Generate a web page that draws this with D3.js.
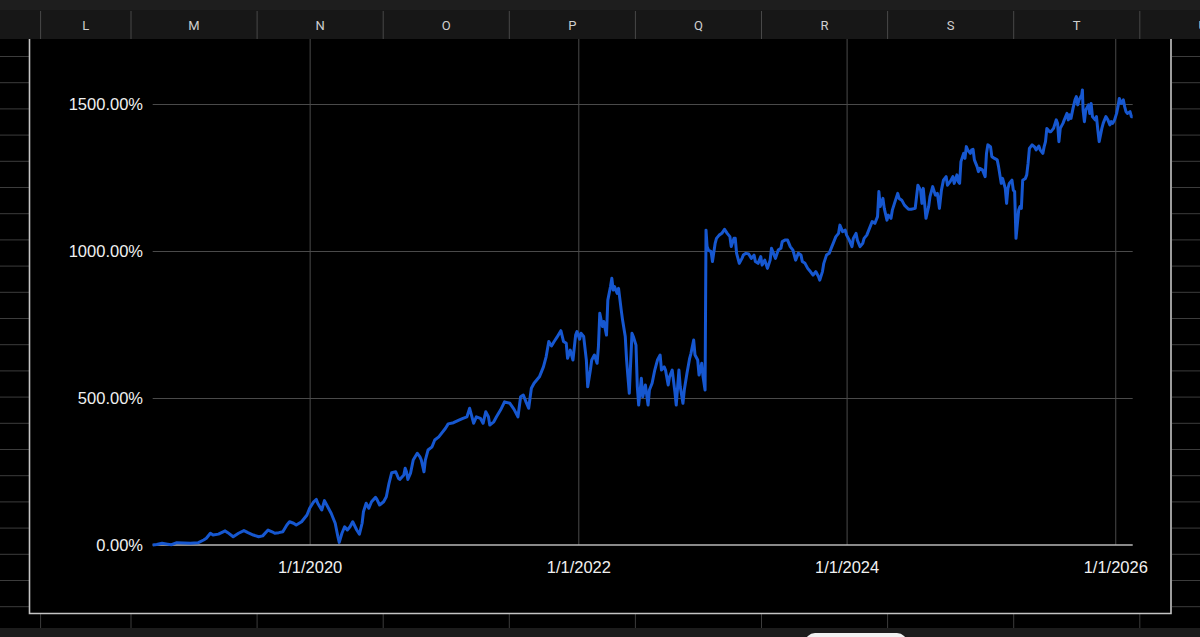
<!DOCTYPE html>
<html>
<head>
<meta charset="utf-8">
<script src="https://cdn.jsdelivr.net/npm/d3@7"></script>
<style>
	html, body { margin: 0; padding: 0; background: #000; overflow: hidden; }
	svg { display: block; }
</style>
</head>
<body>
<script>
'use strict';

// column letters of the sheet header
var columns = ['L', 'M', 'N', 'O', 'P', 'Q', 'R', 'S', 'T', 'U'];

// x tick dates and y tick values
var xTicks = ['2020-01-01', '2022-01-01', '2024-01-01', '2026-01-01'];
var yTicks = [0, 500, 1000, 1500];

// series: time in decimal years, cumulative return in %
var years = [
	2018.83, 2018.86, 2018.90, 2018.94, 2018.97, 2019.01, 2019.06, 2019.11, 2019.17, 2019.21,
	2019.23, 2019.26, 2019.28, 2019.32, 2019.37, 2019.39, 2019.43, 2019.47, 2019.51, 2019.54,
	2019.58, 2019.62, 2019.65, 2019.69, 2019.72, 2019.74, 2019.77, 2019.80, 2019.83, 2019.85,
	2019.88, 2019.90, 2019.94, 2019.98, 2020.00, 2020.03, 2020.05, 2020.06, 2020.09, 2020.11,
	2020.14, 2020.16, 2020.19, 2020.21, 2020.22, 2020.24, 2020.26, 2020.28, 2020.30, 2020.32,
	2020.35, 2020.37, 2020.39, 2020.40, 2020.42, 2020.44, 2020.46, 2020.49, 2020.50, 2020.52,
	2020.55, 2020.57, 2020.59, 2020.61, 2020.64, 2020.66, 2020.67, 2020.70, 2020.71, 2020.72,
	2020.73, 2020.75, 2020.77, 2020.80, 2020.82, 2020.83, 2020.85, 2020.86, 2020.88, 2020.91,
	2020.93, 2020.96, 2021.01, 2021.03, 2021.07, 2021.11, 2021.14, 2021.17, 2021.19, 2021.20,
	2021.22, 2021.24, 2021.27, 2021.29, 2021.31, 2021.33, 2021.34, 2021.37, 2021.39, 2021.42,
	2021.45, 2021.49, 2021.52, 2021.55, 2021.57, 2021.59, 2021.61, 2021.63, 2021.65, 2021.67,
	2021.69, 2021.71, 2021.74, 2021.76, 2021.78, 2021.80, 2021.82, 2021.84, 2021.87, 2021.89,
	2021.91, 2021.92, 2021.94, 2021.96, 2021.98, 2021.99, 2022.01, 2022.02, 2022.04, 2022.06,
	2022.07, 2022.09, 2022.10, 2022.12, 2022.14, 2022.15, 2022.16, 2022.18, 2022.19, 2022.21,
	2022.22, 2022.24, 2022.25, 2022.26, 2022.27, 2022.29, 2022.30, 2022.32, 2022.33, 2022.35,
	2022.36, 2022.37, 2022.38, 2022.40, 2022.41, 2022.43, 2022.44, 2022.45, 2022.47, 2022.48,
	2022.50, 2022.52, 2022.53, 2022.55, 2022.57, 2022.59, 2022.61, 2022.62, 2022.64, 2022.65,
	2022.67, 2022.68, 2022.70, 2022.72, 2022.73, 2022.75, 2022.76, 2022.78, 2022.79, 2022.81,
	2022.83, 2022.84, 2022.86, 2022.87, 2022.89, 2022.90, 2022.92, 2022.93, 2022.945, 2022.952,
	2022.96, 2022.97, 2022.99, 2023.00, 2023.02, 2023.03, 2023.05, 2023.07, 2023.09, 2023.11,
	2023.13, 2023.14, 2023.16, 2023.17, 2023.18, 2023.20, 2023.22, 2023.23, 2023.25, 2023.27,
	2023.29, 2023.31, 2023.32, 2023.34, 2023.36, 2023.37, 2023.39, 2023.41, 2023.43, 2023.44,
	2023.46, 2023.47, 2023.49, 2023.51, 2023.52, 2023.54, 2023.56, 2023.58, 2023.60, 2023.62,
	2023.64, 2023.66, 2023.67, 2023.69, 2023.71, 2023.73, 2023.75, 2023.77, 2023.79, 2023.80,
	2023.82, 2023.83, 2023.85, 2023.87, 2023.89, 2023.90, 2023.92, 2023.94, 2023.95, 2023.96,
	2023.97, 2023.99, 2024.00, 2024.02, 2024.04, 2024.05, 2024.07, 2024.08, 2024.10, 2024.12,
	2024.13, 2024.15, 2024.17, 2024.19, 2024.21, 2024.23, 2024.24, 2024.25, 2024.27, 2024.28,
	2024.30, 2024.31, 2024.33, 2024.34, 2024.36, 2024.38, 2024.39, 2024.41, 2024.43, 2024.46,
	2024.48, 2024.51, 2024.53, 2024.55, 2024.56, 2024.57, 2024.59, 2024.61, 2024.62, 2024.64,
	2024.66, 2024.675, 2024.69, 2024.705, 2024.72, 2024.74, 2024.75, 2024.77, 2024.79, 2024.80,
	2024.82, 2024.83, 2024.84, 2024.85, 2024.87, 2024.88, 2024.89, 2024.90, 2024.92, 2024.93,
	2024.94, 2024.95, 2024.97, 2024.98, 2024.99, 2025.01, 2025.03, 2025.04, 2025.05, 2025.07,
	2025.08, 2025.10, 2025.12, 2025.13, 2025.15, 2025.16, 2025.18, 2025.19, 2025.20, 2025.21,
	2025.23, 2025.24, 2025.25, 2025.26, 2025.28, 2025.29, 2025.30, 2025.31, 2025.33, 2025.34,
	2025.35, 2025.36, 2025.38, 2025.40, 2025.41, 2025.43, 2025.44, 2025.46, 2025.47, 2025.48,
	2025.49, 2025.51, 2025.52, 2025.54, 2025.56, 2025.57, 2025.58, 2025.59, 2025.61, 2025.62,
	2025.64, 2025.65, 2025.66, 2025.67, 2025.685, 2025.70, 2025.71, 2025.72, 2025.73, 2025.75,
	2025.755, 2025.76, 2025.77, 2025.78, 2025.80, 2025.81, 2025.82, 2025.83, 2025.85, 2025.86,
	2025.87, 2025.88, 2025.90, 2025.91, 2025.92, 2025.93, 2025.945, 2025.96, 2025.97, 2025.98,
	2025.995, 2026.01, 2026.02, 2026.03, 2026.045, 2026.06, 2026.07, 2026.08, 2026.09, 2026.11,
	2026.12, 2026.13
];
var returns = [
	0, 2, 6, 3, 1, 8, 7, 6, 8, 17,
	23, 40, 34, 37, 48, 42, 28, 40, 49, 42,
	34, 28, 31, 51, 45, 40, 42, 45, 68, 79,
	74, 68, 79, 102, 125, 147, 155, 142, 119, 151,
	125, 108, 74, 28, 9, 40, 62, 51, 62, 79,
	51, 37, 74, 113, 142, 125, 147, 162, 155, 136,
	147, 164, 210, 246, 249, 227, 223, 238, 261, 249,
	223, 244, 289, 312, 300, 289, 249, 289, 323, 334,
	357, 368, 397, 412, 416, 425, 431, 436, 465, 448,
	414, 436, 431, 414, 453, 436, 408, 419, 436, 459,
	487, 482, 462, 436, 504, 510, 487, 465, 533, 550,
	561, 572, 606, 640, 692, 677, 692, 706, 729, 692,
	686, 635, 663, 629, 714, 726, 700, 720, 709, 629,
	538, 595, 629, 646, 618, 675, 788, 743, 760, 714,
	833, 879, 907, 867, 879, 856, 873, 799, 765, 709,
	629, 572, 516, 720, 709, 680, 538, 476, 567, 504,
	544, 476, 527, 550, 595, 629, 646, 595, 606, 595,
	544, 572, 595, 521, 476, 595, 538, 482, 527, 584,
	635, 652, 697, 646, 629, 578, 618, 572, 527, 1071,
	1015, 1003, 998, 964, 1026, 1043, 1054, 1060, 1074, 1060,
	1049, 1015, 1043, 1043, 992, 958, 975, 986, 992, 990,
	975, 986, 964, 958, 981, 952, 969, 941, 969, 1009,
	986, 975, 1003, 1009, 1032, 1037, 1037, 1015, 1003, 969,
	992, 986, 964, 958, 941, 930, 918, 930, 913, 901,
	930, 958, 986, 992, 1015, 1026, 1049, 1060, 1088, 1077,
	1066, 1071, 1054, 1037, 1015, 1043, 1060, 1037, 1015, 1026,
	1043, 1054, 1077, 1100, 1094, 1117, 1202, 1151, 1179, 1145,
	1105, 1122, 1111, 1139, 1168, 1196, 1179, 1173, 1156, 1142,
	1142, 1145, 1224, 1207, 1162, 1213, 1111, 1151, 1185, 1219,
	1190, 1196, 1145, 1207, 1241, 1253, 1224, 1236, 1253, 1230,
	1259, 1236, 1230, 1304, 1332, 1315, 1355, 1344, 1332, 1344,
	1346, 1310, 1287, 1270, 1281, 1276, 1253, 1332, 1361, 1355,
	1321, 1315, 1310, 1287, 1230, 1247, 1213, 1162, 1213, 1230,
	1241, 1207, 1202, 1043, 1139, 1151, 1145, 1241, 1247, 1259,
	1298, 1349, 1361, 1353, 1344, 1357, 1344, 1332, 1355, 1372,
	1417, 1406, 1406, 1417, 1446, 1434, 1372, 1417, 1434, 1446,
	1468, 1446, 1463, 1451, 1485, 1514, 1525, 1497, 1514, 1531,
	1548, 1480, 1440, 1480, 1497, 1468, 1502, 1457, 1446, 1457,
	1412, 1372, 1417, 1434, 1446, 1457, 1446, 1429, 1440, 1434,
	1446, 1468, 1491, 1519, 1502, 1514, 1491, 1474, 1468, 1474,
	1457, 1457
];

var width = 1200, height = 637;

// decimal year -> Date
var toDate = function(y) {
	var yr = Math.floor(y);
	var start = new Date(yr, 0, 1), end = new Date(yr + 1, 0, 1);
	return new Date(+start + (y - yr) * (end - start));
};

var data = years.map(function(y, i) { return { x: toDate(y), y: returns[i] }; });

var svg = d3.select('body').append('svg')
	.attr('width', width)
	.attr('height', height);

svg.append('rect').attr('width', width).attr('height', height).attr('fill', '#000');

// --------------spreadsheet grid around the chart----------------
var rowLines = d3.range(56.5, 612, 26.2);
var colEdges = [40.6].concat(d3.range(columns.length - 1).map(function(i) { return 131 + i * 126.1; }));

var sheet = svg.append('g').attr('class', 'sheet');
sheet.selectAll('.row-l').data(rowLines).enter().append('line')
	.attr('x1', 0).attr('x2', 29).attr('y1', function(d) { return d; }).attr('y2', function(d) { return d; })
	.attr('stroke', '#3c3c3c').attr('stroke-width', 1);
sheet.selectAll('.row-r').data(rowLines).enter().append('line')
	.attr('x1', 1172).attr('x2', width).attr('y1', function(d) { return d; }).attr('y2', function(d) { return d; })
	.attr('stroke', '#3c3c3c').attr('stroke-width', 1);
sheet.selectAll('.col-b').data(colEdges).enter().append('line')
	.attr('x1', function(d) { return d; }).attr('x2', function(d) { return d; })
	.attr('y1', 614).attr('y2', 628)
	.attr('stroke', '#3c3c3c').attr('stroke-width', 1);

// chart frame
svg.append('path')
	.attr('d', 'M29.5,30 V613.5 H1171 V30')
	.attr('fill', 'none')
	.attr('stroke', '#c4c4c4')
	.attr('stroke-width', 1.6);

// --------------scales and axes----------------
var xScale = d3.scaleTime()
	.domain(d3.extent(data, function(d) { return d.x; }))
	.range([152.7, 1132.7]);
var yScale = d3.scaleLinear()
	.domain([0, 2000])
	.range([545, -43]);

var xTickDates = xTicks.map(function(s) { var p = s.split('-'); return new Date(+p[0], +p[1] - 1, +p[2]); });

// x-grid
svg.append('g')
	.attr('class', 'x-grid')
	.attr('transform', 'translate(0,' + yScale(0) + ')')
	.call(d3.axisBottom(xScale).tickValues(xTickDates).tickSize(yScale(2000) - yScale(0)).tickFormat(''))
	.call(function(g) {
		g.select('.domain').remove();
		g.selectAll('line').attr('stroke', '#4a4a4a').attr('stroke-width', 1);
	});

// y-grid
svg.append('g')
	.attr('class', 'y-grid')
	.attr('transform', 'translate(' + xScale.range()[0] + ',0)')
	.call(d3.axisLeft(yScale).tickValues(yTicks.slice(1)).tickSize(-(xScale.range()[1] - xScale.range()[0])).tickFormat(''))
	.call(function(g) {
		g.select('.domain').remove();
		g.selectAll('line').attr('stroke', '#4a4a4a').attr('stroke-width', 1);
	});

// baseline
svg.append('line')
	.attr('x1', xScale.range()[0]).attr('x2', xScale.range()[1])
	.attr('y1', yScale(0)).attr('y2', yScale(0))
	.attr('stroke', '#b8b8b8').attr('stroke-width', 1.5);

// x labels
svg.append('g')
	.attr('class', 'x-axis')
	.attr('transform', 'translate(0,' + yScale(0) + ')')
	.call(d3.axisBottom(xScale).tickValues(xTickDates).tickSize(0).tickPadding(16).tickFormat(d3.timeFormat('%-m/%-d/%Y')))
	.call(function(g) {
		g.select('.domain').remove();
		g.selectAll('text')
			.attr('fill', '#f0f0f0')
			.style('font-family', '"Liberation Sans", Arial, sans-serif')
			.style('font-size', '16.5px');
	});

// y labels
svg.append('g')
	.attr('class', 'y-axis')
	.attr('transform', 'translate(143,0)')
	.call(d3.axisLeft(yScale).tickValues(yTicks).tickSize(0).tickPadding(0).tickFormat(function(d) { return d.toFixed(2) + '%'; }))
	.call(function(g) {
		g.select('.domain').remove();
		g.selectAll('text')
			.attr('fill', '#f0f0f0')
			.style('font-family', '"Liberation Sans", Arial, sans-serif')
			.style('font-size', '16.5px');
	});

// --------------series line----------------
var line = d3.line()
	.x(function(d) { return xScale(d.x); })
	.y(function(d) { return yScale(d.y); });

svg.append('path')
	.datum(data)
	.attr('d', line)
	.attr('fill', 'none')
	.attr('stroke', '#1657d0')
	.attr('stroke-width', 3)
	.attr('stroke-linejoin', 'round');

// --------------sheet header and footer----------------
svg.append('rect').attr('x', 0).attr('y', 0).attr('width', width).attr('height', 10).attr('fill', '#1e1e1e');
svg.append('rect').attr('x', 0).attr('y', 10).attr('width', width).attr('height', 29).attr('fill', '#171717');

var header = svg.append('g').attr('class', 'header');
header.selectAll('line').data(colEdges).enter().append('line')
	.attr('x1', function(d) { return d; }).attr('x2', function(d) { return d; })
	.attr('y1', 11).attr('y2', 39)
	.attr('stroke', '#484848').attr('stroke-width', 1);
header.selectAll('text').data(columns).enter().append('text')
	.attr('x', function(d, i) { return i === 0 ? (colEdges[0] + colEdges[1]) / 2 : colEdges[i] + 63; })
	.attr('y', 25)
	.attr('dy', '0.35em')
	.attr('text-anchor', 'middle')
	.attr('fill', '#cfcfcf')
	.style('font-family', 'Roboto, sans-serif')
	.style('font-size', '13px')
	.text(function(d) { return d; });

svg.append('rect').attr('x', 0).attr('y', 628).attr('width', width).attr('height', 9).attr('fill', '#1c1c1c');
svg.append('rect')
	.attr('x', 805).attr('y', 633).attr('width', 102).attr('height', 20)
	.attr('rx', 10)
	.attr('fill', '#f2f2f2');
</script>
</body>
</html>
